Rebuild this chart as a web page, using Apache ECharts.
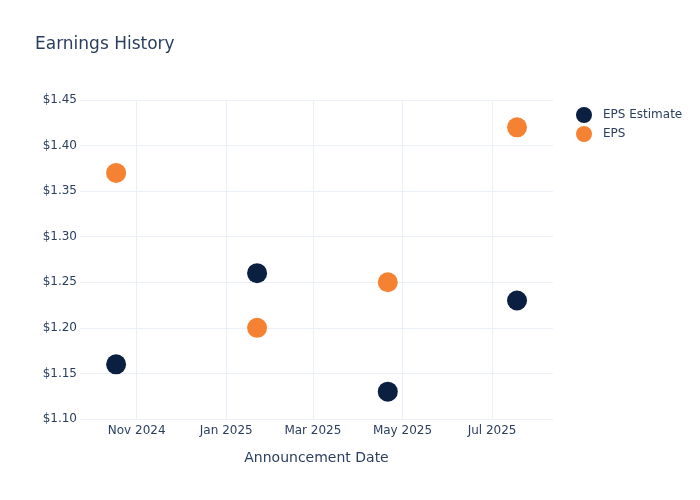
<!DOCTYPE html>
<html><head><meta charset="utf-8">
<script src="https://cdn.jsdelivr.net/npm/echarts@6/dist/echarts.min.js"></script>
<style>html,body{margin:0;padding:0;background:#fff}#c{width:700px;height:500px}</style>
</head><body><div id="c"></div>
<script>
const dates = ['2024-10-18', '2025-01-22', '2025-04-21', '2025-07-18'];
const epsEstimate = [1.16, 1.26, 1.13, 1.23];
const eps = [1.37, 1.20, 1.25, 1.42];
const tickLabels = ['Nov 2024', 'Jan 2025', 'Mar 2025', 'May 2025', 'Jul 2025'];
const tickDates = ['2024-11-01', '2025-01-01', '2025-03-01', '2025-05-01', '2025-07-01'];
const monthNames = ['Jan','Feb','Mar','Apr','May','Jun','Jul','Aug','Sep','Oct','Nov','Dec'];
const font = 'DejaVu Sans, sans-serif';
const txt = '#2a3f5f';
const chart = echarts.init(document.getElementById('c'), null, {renderer:'canvas'});
chart.setOption({
  animation:false,
  backgroundColor:'#fff',
  title:{text:'Earnings History', left:30, top:31, textStyle:{fontFamily:font, fontSize:17, fontWeight:'normal', color:txt}},
  legend:{orient:'vertical', left:571, top:102, itemGap:3, itemWidth:28, itemHeight:16, icon:'circle',
    textStyle:{fontFamily:font, fontSize:12, color:txt}, data:['EPS Estimate','EPS']},
  grid:{left:80, right:147, top:100, bottom:81, containLabel:false},
  xAxis:{type:'time', min:'2024-09-23 10:00', max:'2025-08-11 12:00',
    name:'Announcement Date', nameLocation:'middle', nameGap:32,
    nameTextStyle:{fontFamily:font, fontSize:14, color:txt},
    axisLine:{show:false}, axisTick:{show:false},
    splitLine:{show:false},
    axisLabel:{fontFamily:font, fontSize:12, color:txt, margin:6, showMinLabel:false, showMaxLabel:false,
      formatter:function(v){
        const d=new Date(v);
        if (d.getDate()!==1 || d.getHours()!==0) return '';
        const s=monthNames[d.getMonth()]+' '+d.getFullYear();
        return tickLabels.indexOf(s)>=0 ? s : '';
      }}
  },
  yAxis:{type:'value', min:1.10, max:1.45, interval:0.05,
    axisLine:{show:false}, axisTick:{show:false},
    splitLine:{show:true, lineStyle:{color:'#ebf0f8', width:1}},
    axisLabel:{fontFamily:font, fontSize:12, color:txt, margin:3, formatter:function(v){return '$'+v.toFixed(2);}}
  },
  series:[
    {name:'grid', type:'scatter', data:[], silent:true, z:0,
      markLine:{silent:true, symbol:'none', animation:false, label:{show:false},
        lineStyle:{color:'#ebf0f8', width:1, type:'solid'},
        emphasis:{disabled:true},
        data:tickDates.map(d=>({xAxis:d}))}},
    {name:'EPS Estimate', type:'scatter', symbolSize:20, z:3, itemStyle:{color:'#0b1f41', opacity:1},
      data:dates.map((d,i)=>[d, epsEstimate[i]])},
    {name:'EPS', type:'scatter', symbolSize:20, z:3, itemStyle:{color:'#f58233', opacity:1},
      data:dates.map((d,i)=>[d, eps[i]])}
  ]
});
</script></body></html>
